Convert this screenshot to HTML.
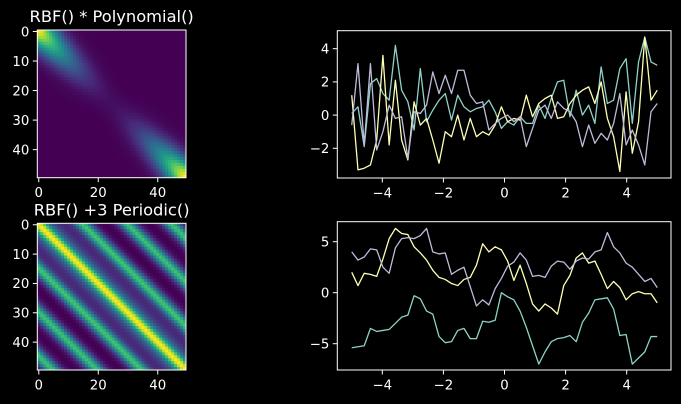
<!DOCTYPE html>
<html><head><meta charset="utf-8"><style>
body{margin:0;background:#000;}
svg{display:block;font-family:"DejaVu Sans","Liberation Sans",sans-serif;}
</style></head><body>
<svg id="fig" width="681" height="404" viewBox="0 0 681 404" xmlns="http://www.w3.org/2000/svg">
<rect width="681" height="404" fill="#000"/>
</svg>
<script>
const xsTicks=[-4,-2,0,2,4];
const topTicksY=[-2,0,2,4];
const botTicksY=[-5,0,5];
const topTeal=[0.1,0.5,-1.9,1.9,2.2,1.3,0.9,4.2,1.5,0.8,-0.9,2.8,-0.4,0.3,0.9,1.3,-0.3,1.2,0.5,0.2,0.4,0.5,0.9,0.2,-0.8,-0.4,-0.6,-0.1,-0.5,-0.5,0.6,-0.2,1.0,2.0,2.1,-0.1,1.5,0.0,0.6,-0.5,2.9,0.7,0.9,2.8,3.4,-0.5,3.2,4.7,3.2,3.0];
const topYellow=[1.2,-3.3,-3.2,-3.0,-1.5,3.6,-1.8,2.1,-1.5,-2.7,0.8,-0.6,-0.2,-1.5,-2.9,-1.0,-1.3,0.0,-1.5,-0.2,-1.3,-1.0,-1.2,-0.6,0.5,-0.4,-0.2,-0.3,1.2,-0.1,0.7,1.0,1.2,-0.2,-0.1,0.7,1.2,1.5,1.7,0.7,2.0,-0.2,-1.3,-3.4,1.4,-2.3,-0.4,4.7,0.9,1.5];
const topLav=[-0.6,3.1,-1.8,3.1,-2.1,-1.0,0.6,-0.2,-0.1,-2.6,0.2,0.1,0.6,2.6,1.3,2.4,1.3,2.7,2.7,1.2,0.7,0.8,-0.9,-0.5,-0.2,0.0,-0.4,-0.1,-1.9,-0.8,0.3,0.6,-0.2,0.8,0.4,0.2,-0.4,-1.9,-0.6,-1.7,-1.1,-1.5,-0.5,1.3,-1.8,-0.9,-1.8,-3.0,0.2,0.7];
const botTeal=[-5.4,-5.3,-5.2,-3.5,-3.8,-3.7,-3.6,-3.0,-2.4,-2.2,-0.3,-0.6,-1.8,-2.1,-4.3,-4.9,-4.8,-3.7,-3.5,-4.5,-4.5,-2.8,-2.9,-2.7,0.0,-0.4,-0.7,-1.8,-3.4,-5.2,-7.0,-5.8,-4.8,-4.5,-4.4,-4.2,-4.8,-2.9,-2.0,-0.7,-0.6,-0.5,-1.6,-4.2,-4.1,-7.0,-6.4,-5.8,-4.3,-4.3];
const botYellow=[2.0,0.7,1.9,1.8,1.6,3.3,5.3,6.3,5.8,5.7,4.5,3.9,3.2,2.2,1.5,1.3,0.9,0.7,1.3,1.5,2.7,4.8,4.0,4.5,4.2,3.1,1.2,2.7,0.9,-1.1,-1.8,-1.1,-1.5,-2.1,0.7,1.7,3.4,3.9,2.9,3.1,1.8,0.4,1.1,0.5,-0.7,-0.1,0.1,-0.1,-0.1,-1.0];
const botLav=[4.0,3.2,3.5,4.3,4.2,2.5,1.9,4.4,5.3,5.4,5.3,5.6,6.3,4.0,3.8,3.9,1.8,2.2,2.5,0.6,-1.3,-0.7,-1.2,0.4,1.4,2.6,3.0,3.9,3.2,1.6,1.7,1.5,2.6,3.1,3.0,2.3,3.1,3.4,3.3,4.0,4.2,5.9,4.5,3.9,2.9,2.5,1.8,1.1,1.4,0.5];
const hmTicksY=[0,10,20,30,40];
const hmTicksX=[0,20,40];
const N=50;

const NS='http://www.w3.org/2000/svg';
const fig=document.getElementById('fig');
const FS=13.3, TFS=16.3, TL=4.5;
function el(tag,attrs,parent){const e=document.createElementNS(NS,tag);for(const k in attrs)e.setAttribute(k,attrs[k]);(parent||fig).appendChild(e);return e;}
function txt(s,x,y,anchor,size,parent){const t=el('text',{x:x,y:y,'text-anchor':anchor,'font-size':size,fill:'#fff'},parent);t.textContent=s;return t;}

const vir=[[68,1,84],[72,40,120],[62,74,137],[49,104,142],[38,130,142],[31,158,137],[53,183,121],[109,205,89],[180,222,44],[253,231,37]];
function viridis(t){t=Math.max(0,Math.min(1,t))*(vir.length-1);const i=Math.min(Math.floor(t),vir.length-2);const f=t-i;const a=vir[i],b=vir[i+1];return 'rgb('+[0,1,2].map(k=>Math.round(a[k]+(b[k]-a[k])*f)).join(',')+')';}

function heatmap(name,title,x0,y0,w,h,kfn){
  const g=el('g',{});
  
  
  const xv=[];for(let i=0;i<N;i++)xv.push(-5+10*i/(N-1));
  const M=[];let mn=1e9,mx=-1e9;
  for(let i=0;i<N;i++){M.push([]);for(let j=0;j<N;j++){const v=kfn(xv[i],xv[j],i,j);M[i].push(v);mn=Math.min(mn,v);mx=Math.max(mx,v);}}
  const cw=w/N,ch=h/N;
  for(let i=0;i<N;i++)for(let j=0;j<N;j++){
    const r=el('rect',{x:(x0+j*cw).toFixed(2),y:(y0+i*ch).toFixed(2),width:(cw+0.4).toFixed(2),height:(ch+0.4).toFixed(2),fill:viridis((M[i][j]-mn)/(mx-mn))},g);
    
    
  }
  el('rect',{x:x0,y:y0,width:w,height:h,fill:'none',stroke:'#fff','stroke-width':1},g);
  hmTicksY.forEach(v=>{const y=y0+(v+0.5)*ch;el('line',{x1:x0-TL,x2:x0,y1:y,y2:y,stroke:'#fff'},g);const t=txt(String(v),x0-8,y+4.8,'end',FS,g);});
  hmTicksX.forEach(v=>{const x=x0+(v+0.5)*cw;el('line',{x1:x,x2:x,y1:y0+h,y2:y0+h+TL,stroke:'#fff'},g);const t=txt(String(v),x,y0+h+19.5,'middle',FS,g);});
  const tt=txt(title,x0+w/2,y0-8,'middle',TFS,g);
  
  
}
heatmap('heatmap-rbf-polynomial','RBF() * Polynomial()',37.3,30,148.7,147.7,(a,b)=>Math.exp(-(a-b)*(a-b)/2)*(a*b+1));
heatmap('heatmap-rbf-periodic','RBF() +3 Periodic()',37.3,223.3,148.7,146.7,(a,b)=>{const d=a-b;return 1.2*Math.exp(-d*d/(2*1.2*1.2))+3*Math.exp(-2*Math.pow(Math.sin(Math.PI*d/3.05),2)/0.8);});

function linePlot(name,x0,y0,w,h,xmin,xmax,ymin,ymax,yticks,series){
  const g=el('g',{});
  
  
  const sx=v=>x0+(v-xmin)/(xmax-xmin)*w;
  const sy=v=>y0+h-(v-ymin)/(ymax-ymin)*h;
  series.forEach(s=>{
    const pts=s.data.map((v,i)=>sx(-5+10*i/(s.data.length-1)).toFixed(2)+','+sy(v).toFixed(2)).join(' ');
    const p=el('polyline',{points:pts,fill:'none',stroke:s.color,'stroke-width':1.3,'stroke-linejoin':'round'},g);
    
    
  });
  el('rect',{x:x0,y:y0,width:w,height:h,fill:'none',stroke:'#fff','stroke-width':1},g);
  yticks.forEach(v=>{const y=sy(v);el('line',{x1:x0-TL,x2:x0,y1:y,y2:y,stroke:'#fff'},g);const t=txt(String(v).replace('-','\u2212'),x0-8,y+4.8,'end',FS,g);});
  xsTicks.forEach(v=>{const x=sx(v);el('line',{x1:x,x2:x,y1:y0+h,y2:y0+h+TL,stroke:'#fff'},g);const t=txt(String(v).replace('-','\u2212'),x,y0+h+19.5,'middle',FS,g);});
}
const ux=30.55, x0c=504.5, L=337.3, R=671;
const xmin=(L-x0c)/ux, xmax=(R-x0c)/ux;
const tT=30.7,tB=178, tu=16.6, t0=115.1;
linePlot('samples-plot-top',L,tT,R-L,tB-tT,xmin,xmax,(t0-tB)/tu,(t0-tT)/tu,topTicksY,[
 {name:'series-1-line',color:'#8dd3c7',data:topTeal},
 {name:'series-2-line',color:'#ffffb3',data:topYellow},
 {name:'series-3-line',color:'#bebada',data:topLav}]);
const bT=221.7,bB=370,bu=10.2,b0=292.7;
linePlot('samples-plot-bottom',L,bT,R-L,bB-bT,xmin,xmax,(b0-bB)/bu,(b0-bT)/bu,botTicksY,[
 {name:'series-1-line',color:'#8dd3c7',data:botTeal},
 {name:'series-2-line',color:'#ffffb3',data:botYellow},
 {name:'series-3-line',color:'#bebada',data:botLav}]);
</script>
</body></html>
